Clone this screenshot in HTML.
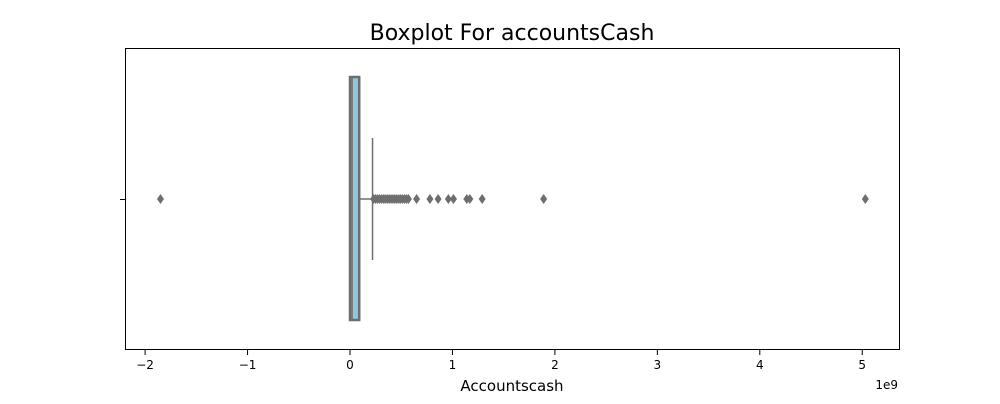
<!DOCTYPE html>
<html><head><meta charset="utf-8"><style>
body{margin:0;background:#fff;font-family:"DejaVu Sans","Liberation Sans",sans-serif}
</style></head><body>
<svg width="1000" height="400" font-family="DejaVu Sans, Liberation Sans, sans-serif">
<text x="512" y="40" text-anchor="middle" font-size="22">Boxplot For accountsCash</text>
<g id="plot"></g>
<rect x="125.5" y="48.5" width="774" height="301" fill="none" stroke="#000" stroke-width="1"/>
<line x1="120" y1="199.5" x2="125" y2="199.5" stroke="#000"/>
<g id="xaxis"></g>
<text x="512" y="391" text-anchor="middle" font-size="15">Accountscash</text>
<text x="898" y="389" text-anchor="end" font-size="12">1e9</text>
</svg>
<script>
const ticks=[-2,-1,0,1,2,3,4,5];
const tickLabels=["\u22122","\u22121","0","1","2","3","4","5"];
const q1=[0.0];
const median=[0.02];
const q3=[0.09];
const whiskerLow=[0.0];
const whiskerHigh=[0.22];
const outliers=[-1.85,0.23,0.25,0.27,0.29,0.31,0.33,0.35,0.37,0.39,0.41,0.43,0.45,0.47,0.49,0.51,0.53,0.55,0.57,0.65,0.78,0.86,0.96,1.01,1.14,1.17,1.29,1.89,5.03];
const NS="http://www.w3.org/2000/svg";
const x=v=>350+v*102.45;
const cy=199;
const plot=document.getElementById('plot');
function mk(t,a,p){const e=document.createElementNS(NS,t);for(const k in a)e.setAttribute(k,a[k]);(p||plot).appendChild(e);return e;}
const gray="#6e6e6e";
let e=mk('line',{x1:x(q3[0]),y1:cy,x2:x(whiskerHigh[0]),y2:cy,stroke:gray,'stroke-width':1.5});


e=mk('line',{x1:x(whiskerHigh[0]),y1:138,x2:x(whiskerHigh[0]),y2:260,stroke:gray,'stroke-width':1.5});


e=mk('rect',{x:x(q1[0]),y:77,width:x(q3[0])-x(q1[0]),height:243,fill:"#92c6df",stroke:gray,'stroke-width':2.5});


e=mk('line',{x1:x(median[0]),y1:77,x2:x(median[0]),y2:320,stroke:gray,'stroke-width':1.5});


outliers.forEach(v=>{const px=x(v);
const p=mk('polygon',{points:`${px},${cy-5} ${px+3.5},${cy} ${px},${cy+5} ${px-3.5},${cy}`,fill:gray});

});
const xa=document.getElementById('xaxis');
ticks.forEach((t,i)=>{
const l=mk('line',{x1:x(t),y1:350,x2:x(t),y2:355,stroke:'#000'},xa);


const tx=mk('text',{x:x(t),y:369,'text-anchor':'middle','font-size':12},xa);
tx.textContent=tickLabels[i];

});
</script>
</body></html>
